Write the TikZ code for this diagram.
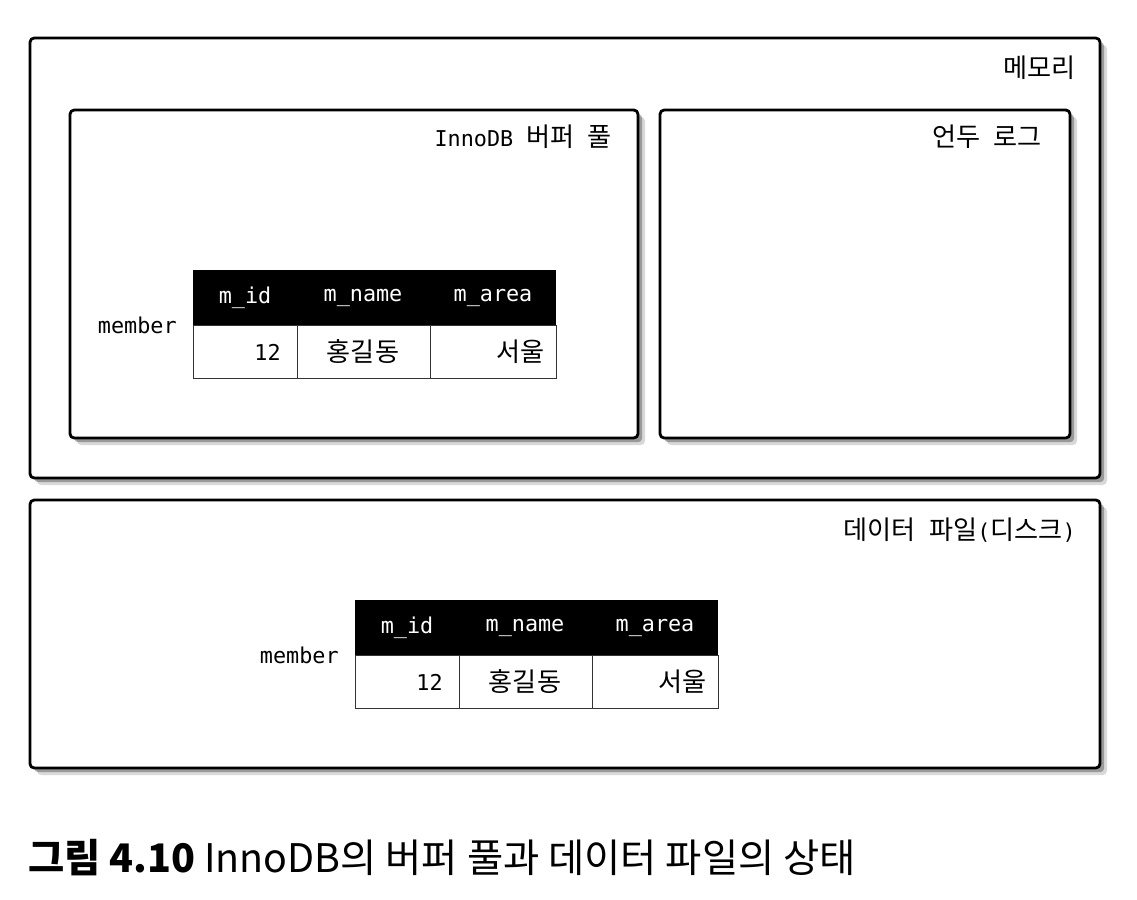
\documentclass[tikz,border=0pt]{standalone}
\usepackage{fontspec}
\setmainfont{DejaVu Sans Mono}
\newfontfamily\krfont{Noto Sans CJK KR}[Scale=1.2]
\newfontfamily\capfont{Noto Sans CJK KR}
\usetikzlibrary{shadows}

\begin{document}
\begin{tikzpicture}[x=0.025cm, y=-0.025cm,
        every node/.style={font=\fontsize{15.5}{18}\selectfont, inner sep=0pt},
        box/.style={draw, line width=2pt, rounded corners=3pt, fill=white,
            drop shadow={shadow xshift=5pt, shadow yshift=-5pt, fill=black!50, opacity=0.3},
            drop shadow={shadow xshift=3pt, shadow yshift=-3pt, fill=black!60, opacity=0.55}},
        cell/.style={draw=black!80, line width=0.7pt}]
        \useasboundingbox (0,0) rectangle (1137,900);

        % memory
        \draw[box] (30,38) rectangle (1100,478);
        \node[anchor=east] (mem) at (1076,68) {\krfont 메모리};

        \draw[box] (70,110) rectangle (638,438);
        \node[anchor=east] (pool) at (612,137) {InnoDB {\krfont 버퍼} {\krfont 풀}};

        \draw[box] (660,110) rectangle (1070,438);
        \node[anchor=east] (undo) at (1042,137) {{\krfont 언두} {\krfont 로그}};

        % disk
        \draw[box] (30,500) rectangle (1100,768);
        \node[anchor=east] (disk) at (1076,530) {{\krfont 데이터} {\krfont 파일}({\krfont 디스크})};

        \foreach \tx/\ty/\tn in {193/270/pool, 355/600/disk} {
            \fill (\tx,\ty) rectangle (\tx+363,\ty+55);
            \draw[cell] (\tx,\ty+55) rectangle (\tx+363,\ty+108);
            \draw[cell] (\tx+104,\ty+55) -- (\tx+104,\ty+108);
            \draw[cell] (\tx+237,\ty+55) -- (\tx+237,\ty+108);

            \node[text=white] (\tn-h1) at (\tx+52,\ty+28) {m\_id};
            \node[text=white] (\tn-h2) at (\tx+170,\ty+28) {m\_name};
            \node[text=white] (\tn-h3) at (\tx+300,\ty+28) {m\_area};

            \node[anchor=east] (\tn-v1) at (\tx+88,\ty+82) {12};
            \node (\tn-v2) at (\tx+170,\ty+82) {\krfont 홍길동};
            \node[anchor=east] (\tn-v3) at (\tx+352,\ty+82) {\krfont 서울};

            \node[anchor=east] (\tn-t) at (\tx-16,\ty+55) {member};
        }

        \node[anchor=west, font=\capfont\fontsize{28}{32}\selectfont] (cap) at (28,858)
            {\textbf{그림 4.10} InnoDB의 버퍼 풀과 데이터 파일의 상태};
\end{tikzpicture}
\end{document}
